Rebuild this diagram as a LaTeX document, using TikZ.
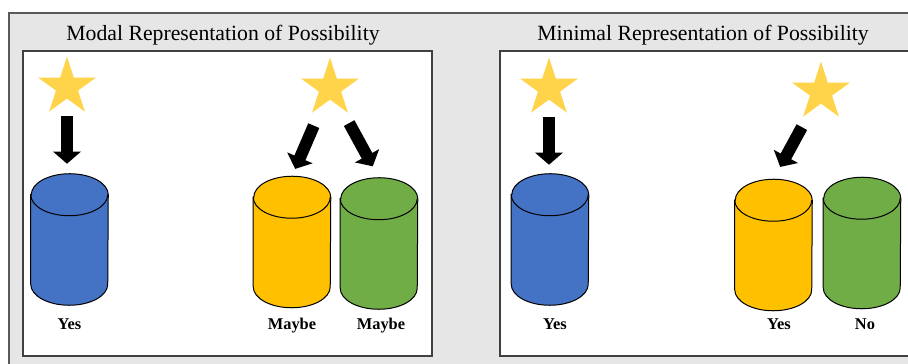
\documentclass[tikz,border=0pt]{standalone}
\usepackage{fontspec}
\setmainfont{Liberation Serif}
\usepackage{tikz}
\usetikzlibrary{calc, arrows.meta, shapes.geometric}

\definecolor{panelgrey}{HTML}{E7E6E6}
\definecolor{framegrey}{HTML}{595959}
\definecolor{boxline}{HTML}{404040}
\definecolor{stargold}{HTML}{FFD44A}
\definecolor{canblue}{HTML}{4472C4}
\definecolor{canyellow}{HTML}{FFC000}
\definecolor{cangreen}{HTML}{70AD47}

\tikzset{
  starnode/.style={star, star points=5, star point ratio=2.618, fill=stargold, inner sep=0pt, minimum size=45.6pt},
  canbox/.style={inner sep=0pt, minimum width=57.75pt, minimum height=98.25pt},
  tag/.style={font=\fontsize{12.3}{14}\selectfont\bfseries, anchor=base, inner sep=0pt},
  heading/.style={font=\fontsize{16.3}{19}\selectfont, anchor=base, inner sep=0pt},
  blockarrow/.style={line width=9pt, -{Triangle[width=20.25pt, length=9pt]}},
}

% body of a drum, drawn round its box node
\newcommand{\candraw}[2]{%
  \filldraw[fill=#2, draw=black, line width=0.75pt]
    ($(#1.north west)+(0,-21)$) -- ($(#1.south west)+(0,21)$)
    arc[start angle=180, end angle=360, x radius=38.5, y radius=21]
    -- ($(#1.north east)+(0,-21)$)
    arc[start angle=0, end angle=180, x radius=38.5, y radius=21] -- cycle;
  \draw[line width=0.75pt] ($(#1.north west)+(0,-21)$)
    arc[start angle=180, end angle=360, x radius=38.5, y radius=21];
}

\begin{document}
\begin{tikzpicture}
              [x=0.75pt, y=0.75pt]
              \useasboundingbox (0,0) rectangle (908,364);
              \clip (0,0) rectangle (908,364);

              % frames %
              \draw[fill=panelgrey, draw=framegrey, line width=1.2pt] (9,351) rectangle (920,-10);
              \draw[fill=white, draw=boxline, line width=1.1pt] (23,313) rectangle (432,8);
              \draw[fill=white, draw=boxline, line width=1.1pt] (500,313) rectangle (920,8);

              % titles %
              \node[heading] (modal) at (223,323) {Modal Representation of Possibility};
              \node[heading] (minimal) at (703,323) {Minimal Representation of Possibility};

              % nodes %
              \node[starnode] (s1) at (67,277) {};
              \node[starnode] (s2) at (330,276) {};
              \node[starnode] (s3) at (549,276) {};
              \node[starnode] (s4) at (821,272) {};

              \node[canbox] (c1) at (69.5,124.5) {};
              \node[canbox] (c2) at (292,122) {};
              \node[canbox] (c3) at (379,120.5) {};
              \node[canbox] (c4) at (550,124.5) {};
              \node[canbox] (c5) at (773.5,119) {};
              \node[canbox] (c6) at (862,121) {};

              \candraw{c1}{canblue}
              \candraw{c2}{canyellow}
              \candraw{c3}{cangreen}
              \candraw{c4}{canblue}
              \candraw{c5}{canyellow}
              \candraw{c6}{cangreen}

              % labels %
              \coordinate (base) at (0,34);
              \node[tag] (l1) at (c1 |- base) {Yes};
              \node[tag] (l2) at (c2 |- base) {Maybe};
              \node[tag, xshift=1.5pt] (l3) at (c3 |- base) {Maybe};
              \node[tag, xshift=3.75pt] (l4) at (c4 |- base) {Yes};
              \node[tag, xshift=4.1pt] (l5) at (c5 |- base) {Yes};
              \node[tag, xshift=2.25pt] (l6) at (c6 |- base) {No};

              % edges %
              \draw[blockarrow, shorten <=21.75pt, shorten >=7.5pt] (s1.center) -- (s1.center |- c1.north);
              \draw[blockarrow, shorten <=30.75pt, shorten >=6pt] (s2.center) -- (c2.north);
              \draw[blockarrow, shorten <=30pt, shorten >=9.75pt] (s2.center) -- (c3.north);
              \draw[blockarrow, shorten <=21.75pt, shorten >=6.75pt] (s3.center) -- (s3.center |- c4.north);
              \draw[blockarrow, shorten <=30pt, shorten >=10.5pt] (s4.center) -- (c5.north);
            \end{tikzpicture}
\end{document}
